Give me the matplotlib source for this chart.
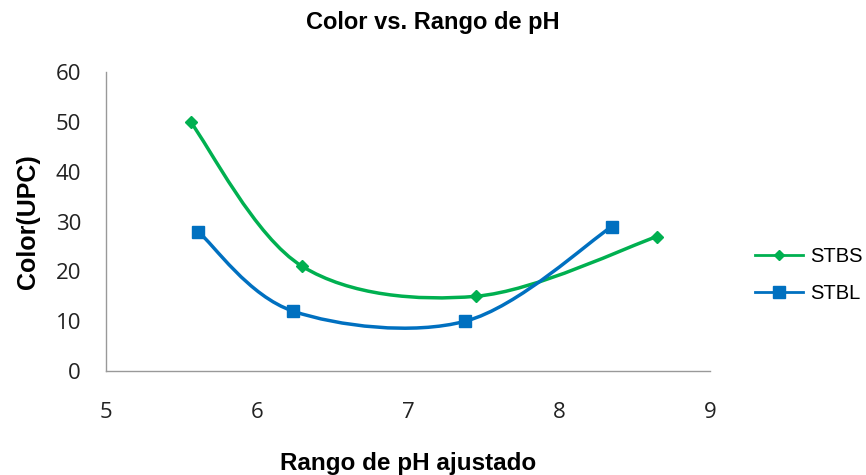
import numpy as np
import matplotlib.pyplot as plt
from matplotlib.path import Path
from matplotlib.patches import PathPatch

# Data
stbs_x = [5.56, 6.30, 7.45, 8.65]
stbs_y = [50, 21, 15, 27]
stbl_x = [5.61, 6.24, 7.38, 8.35]
stbl_y = [28, 12, 10, 29]

green = '#00B050'
blue = '#0070C0'


# Excel-style smoothed line: cubic bezier through the points (Catmull-Rom control points)
def smooth_path(xs, ys):
    p = np.column_stack([xs, ys]).astype(float)
    n = len(p)
    verts = [p[0]]
    codes = [Path.MOVETO]
    for i in range(n - 1):
        p0 = p[i - 1] if i > 0 else p[i]
        p1 = p[i]
        p2 = p[i + 1]
        p3 = p[i + 2] if i + 2 < n else p[i + 1]
        c1 = p1 + (p2 - p0) / 6.0
        c2 = p2 - (p3 - p1) / 6.0
        verts += [c1, c2, p2]
        codes += [Path.CURVE4] * 3
    return Path(verts, codes)


fig = plt.figure(figsize=(8.66, 4.75), dpi=100)
ax = fig.add_axes([0.1224, 0.219, 0.6975, 0.629])

for xs, ys, col, mk, ms, lab in [(stbs_x, stbs_y, green, 'D', 6, 'STBS'),
                                 (stbl_x, stbl_y, blue, 's', 9, 'STBL')]:
    ax.add_patch(PathPatch(smooth_path(xs, ys), facecolor='none', edgecolor=col, lw=2.5,
                           zorder=2))
    ax.plot(xs, ys, linestyle='none', marker=mk, ms=ms, color=col, zorder=3)
    ax.plot([], [], color=col, lw=2, marker=mk, ms=ms - 1, label=lab)

ax.set_xlim(5, 9)
ax.set_ylim(0, 60)
ax.set_xticks([5, 6, 7, 8, 9])
ax.set_yticks(range(0, 61, 10))
ax.tick_params(length=0, labelsize=16, colors='#222222')
ax.tick_params(axis='x', pad=22)
ax.tick_params(axis='y', pad=18)
for lbl in ax.get_xticklabels() + ax.get_yticklabels():
    lbl.set_family('Open Sans')

for s in ['top', 'right']:
    ax.spines[s].set_visible(False)
for s in ['left', 'bottom']:
    ax.spines[s].set_color('#999999')
    ax.spines[s].set_linewidth(1)

fig.text(0.5, 0.953, 'Color vs. Rango de pH', fontsize=17, fontweight='bold',
         family='Liberation Sans', ha='center', va='center')
ax.set_xlabel('Rango de pH ajustado', fontsize=17.5, fontweight='bold',
              family='Liberation Sans', labelpad=21)
ax.set_ylabel('Color(UPC)', fontsize=18, fontweight='bold',
              family='Liberation Sans', labelpad=11)

leg = ax.legend(loc='center left', bbox_to_anchor=(1.074, 0.322), frameon=False,
                prop={'family': 'Liberation Sans', 'size': 14.5}, handlelength=2.4,
                labelspacing=0.9, handletextpad=0.35, borderpad=0, borderaxespad=0)

fig.savefig('out.png', dpi=100)
